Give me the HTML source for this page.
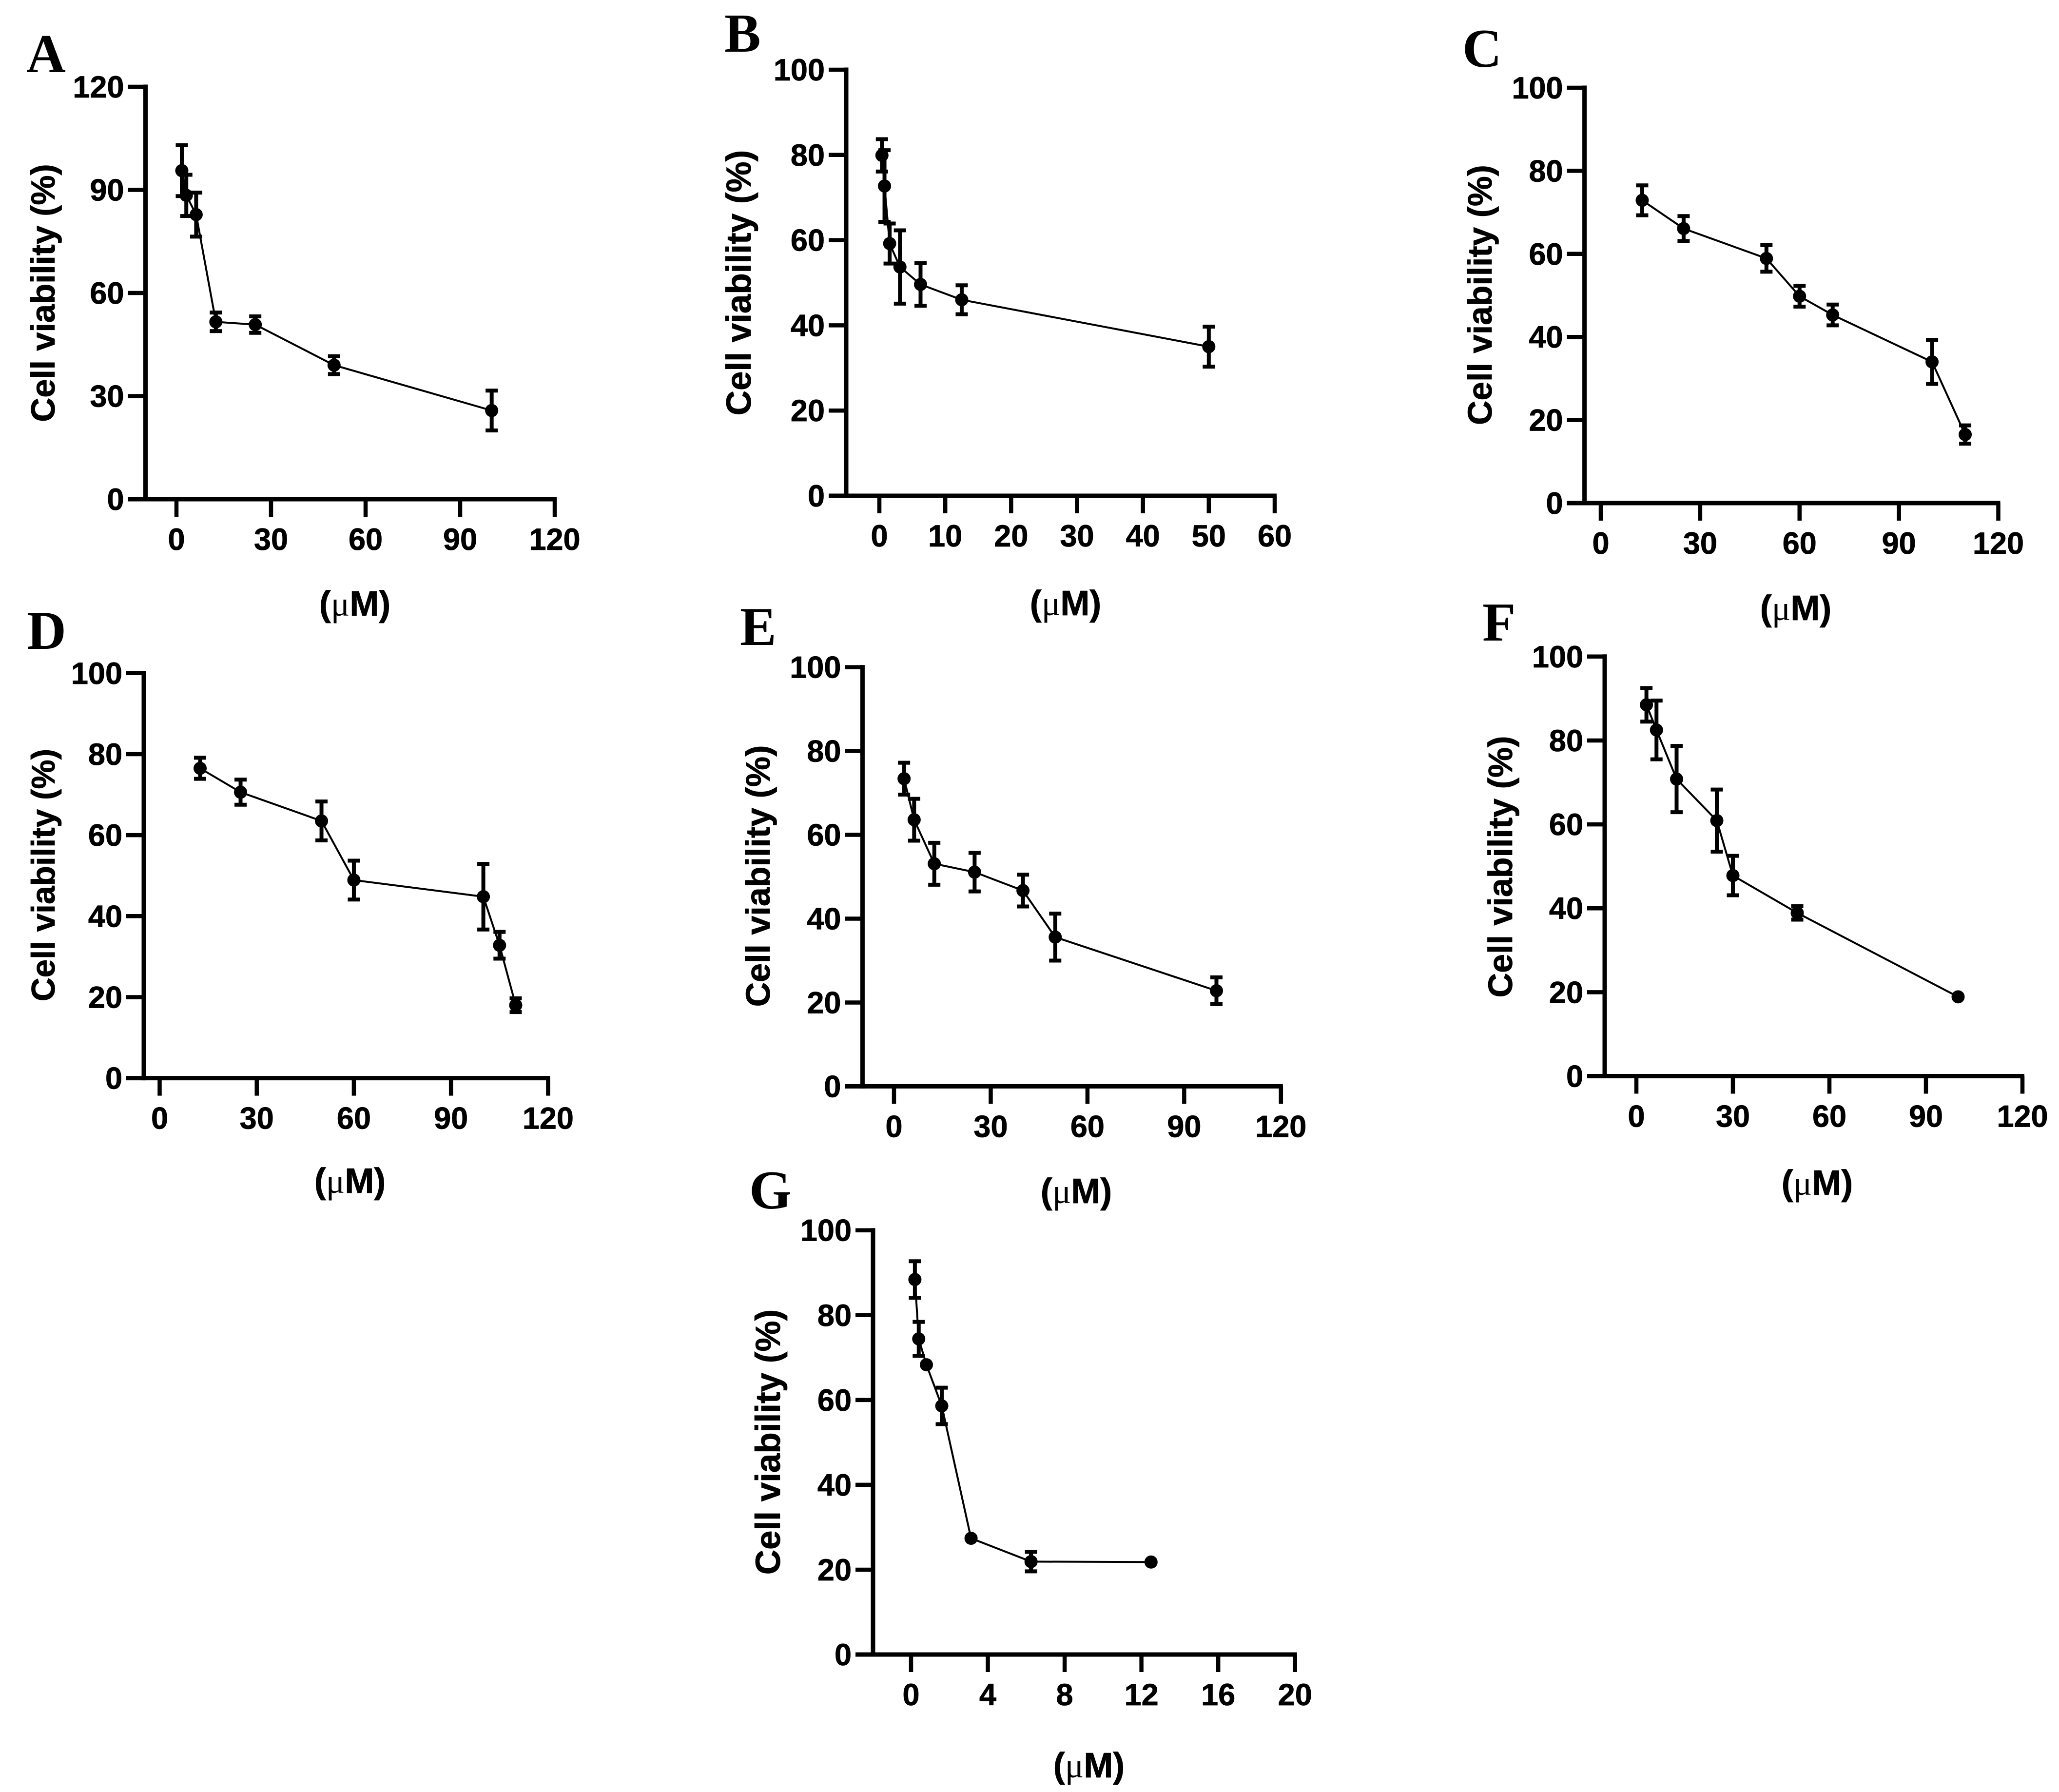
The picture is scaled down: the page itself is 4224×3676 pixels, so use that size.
<!DOCTYPE html>
<html lang="en">
<head>
<meta charset="utf-8">
<title>Cell viability dose-response panels</title>
<style>
  html, body { margin: 0; padding: 0; background: #fff; }
  svg { display: block; }
  text { fill: #000; stroke: #000; stroke-width: 0.8px; font-family: "Liberation Sans", sans-serif; font-weight: 700; }
  .tick-text { font-size: 63px; }
  .panel-letter { font-family: "Liberation Serif", serif; font-size: 112px; stroke-width: 0; }
  .mu { font-family: "Liberation Serif", serif; font-weight: 400; stroke-width: 0; }
</style>
</head>
<body>
<svg id="figure" xmlns="http://www.w3.org/2000/svg" width="4224" height="3676" viewBox="0 0 4224 3676">
  <rect width="4224" height="3676" fill="#ffffff"/>
</svg>
<script>
// Panel A
const aDoses = [1.7, 3.125, 6.25, 12.5, 25, 50, 100];
const aViability = [95.6, 88.4, 82.8, 51.6, 50.8, 39, 25.8];
const aErrors = [7.4, 6, 6.4, 2.7, 2.4, 2.6, 5.8];
const aXTicks = [0, 30, 60, 90, 120];
const aYTicks = [0, 30, 60, 90, 120];
// Panel B
const bDoses = [0.39, 0.78, 1.56, 3.125, 6.25, 12.5, 50];
const bViability = [79.9, 72.7, 59.2, 53.7, 49.6, 46, 35];
const bErrors = [3.8, 8.4, 4.7, 8.6, 5, 3.4, 4.7];
const bXTicks = [0, 10, 20, 30, 40, 50, 60];
const bYTicks = [0, 20, 40, 60, 80, 100];
// Panel C
const cDoses = [12.5, 25, 50, 60, 70, 100, 110];
const cViability = [72.9, 66.1, 58.9, 49.8, 45.3, 34, 16.5];
const cErrors = [3.6, 3, 3.2, 2.5, 2.5, 5.3, 2.2];
const cXTicks = [0, 30, 60, 90, 120];
const cYTicks = [0, 20, 40, 60, 80, 100];
// Panel D
const dDoses = [12.5, 25, 50, 60, 100, 105, 110];
const dViability = [76.5, 70.6, 63.5, 48.9, 44.8, 32.8, 18];
const dErrors = [2.6, 3.1, 4.8, 4.8, 8.1, 3.3, 1.7];
const dXTicks = [0, 30, 60, 90, 120];
const dYTicks = [0, 20, 40, 60, 80, 100];
// Panel E
const eDoses = [3.125, 6.25, 12.5, 25, 40, 50, 100];
const eViability = [73.4, 63.6, 53.1, 51.1, 46.7, 35.6, 22.8];
const eErrors = [3.8, 5, 5, 4.6, 3.8, 5.6, 3.2];
const eXTicks = [0, 30, 60, 90, 120];
const eYTicks = [0, 20, 40, 60, 80, 100];
// Panel F
const fDoses = [3.125, 6.25, 12.5, 25, 30, 50, 100];
const fViability = [88.5, 82.5, 70.8, 60.9, 47.8, 38.9, 18.9];
const fErrors = [4, 7, 7.9, 7.4, 4.7, 1.6, 0];
const fXTicks = [0, 30, 60, 90, 120];
const fYTicks = [0, 20, 40, 60, 80, 100];
// Panel G
const gDoses = [0.2, 0.4, 0.8, 1.6, 3.125, 6.25, 12.5];
const gViability = [88.4, 74.4, 68.3, 58.6, 27.4, 21.9, 21.8];
const gErrors = [4.3, 4, 0, 4.3, 0, 2.3, 0];
const gXTicks = [0, 4, 8, 12, 16, 20];
const gYTicks = [0, 20, 40, 60, 80, 100];

const NS = 'http://www.w3.org/2000/svg';
const figure = document.getElementById('figure');

function make(parent, tag, props) {
  const el = document.createElementNS(NS, tag);
  for (const k in props) el.setAttribute(k, props[k]);
  parent.appendChild(el);
  return el;
}

function drawPanel(p, doses, viability, errors, xTicks, yTicks) {
  const xMax = xTicks[xTicks.length - 1];
  const yMax = yTicks[yTicks.length - 1];
  const sx = v => p.x0 + (v / xMax) * (p.xEnd - p.x0);
  const sy = v => p.y0 - (v / yMax) * (p.y0 - p.yTop);
  const id = p.id;

  const group = make(figure, 'g', {});
  
  

  const letter = make(group, 'text', { x: p.letterX, y: p.letterY, class: 'panel-letter' });
  letter.textContent = id.toUpperCase();
  
  

  const yAxis = make(group, 'line', { x1: p.axisX, x2: p.axisX, y1: sy(yMax) - 4.5, y2: p.y0 + 4.5, stroke: '#000', 'stroke-width': 9 });
  
  

  const xAxis = make(group, 'line', { x1: p.axisX - 36, x2: sx(xMax) + 4, y1: p.y0, y2: p.y0, stroke: '#000', 'stroke-width': 9 });
  
  

  yTicks.forEach(function (t) {
    const mark = make(group, 'line', { x1: p.axisX - 36, x2: p.axisX, y1: sy(t), y2: sy(t), stroke: '#000', 'stroke-width': 8.5 });
    
    
    const label = make(group, 'text', { x: p.axisX - 44, y: sy(t) + 22, 'text-anchor': 'end', class: 'tick-text' });
    label.textContent = t;
    
    
  });

  xTicks.forEach(function (t) {
    const mark = make(group, 'line', { x1: sx(t), x2: sx(t), y1: p.y0, y2: p.y0 + 36, stroke: '#000', 'stroke-width': 8.5 });
    
    
    const label = make(group, 'text', { x: sx(t), y: p.y0 + 104, 'text-anchor': 'middle', class: 'tick-text' });
    label.textContent = t;
    
    
  });

  const yTitle = make(group, 'text', {
    transform: 'translate(' + p.titleX + ',' + p.titleY + ') rotate(-90)',
    'text-anchor': 'middle',
    'font-size': p.titleSize
  });
  yTitle.textContent = 'Cell viability (%)';
  
  

  const xTitle = make(group, 'text', { x: p.unitX, y: p.unitY, 'text-anchor': 'middle', 'font-size': 72 });
  
  
  xTitle.appendChild(document.createTextNode('('));
  const mu = make(xTitle, 'tspan', { class: 'mu' });
  mu.textContent = 'μ';
  xTitle.appendChild(document.createTextNode('M)'));

  const pts = doses.map(function (d, i) { return sx(d) + ',' + sy(viability[i]); }).join(' ');
  const curve = make(group, 'polyline', { points: pts, fill: 'none', stroke: '#000', 'stroke-width': 4, 'stroke-linejoin': 'round' });
  
  

  doses.forEach(function (d, i) {
    const cx = sx(d);
    const err = errors[i];
    if (err > 0) {
      const bar = make(group, 'path', {
        d: 'M' + (cx - 12.5) + ' ' + sy(viability[i] + err) + 'H' + (cx + 12.5) +
           'M' + cx + ' ' + sy(viability[i] + err) + 'V' + sy(viability[i] - err) +
           'M' + (cx - 12.5) + ' ' + sy(viability[i] - err) + 'H' + (cx + 12.5),
        fill: 'none', stroke: '#000', 'stroke-width': 8
      });
      
      
    }
    const dot = make(group, 'circle', { cx: cx, cy: sy(viability[i]), r: 13.5, fill: '#000' });
    
    
  });
}

drawPanel({ id: 'a', axisX: 298.5, x0: 362, xEnd: 1138, y0: 1024, yTop: 178, letterX: 54, letterY: 148, titleX: 112, titleY: 601, titleSize: 69, unitX: 728, unitY: 1263 }, aDoses, aViability, aErrors, aXTicks, aYTicks);
drawPanel({ id: 'b', axisX: 1736, x0: 1804, xEnd: 2615, y0: 1017, yTop: 143, letterX: 1486, letterY: 106, titleX: 1540, titleY: 580, titleSize: 71, unitX: 2186, unitY: 1262 }, bDoses, bViability, bErrors, bXTicks, bYTicks);
drawPanel({ id: 'c', axisX: 3250.6, x0: 3284, xEnd: 4099.5, y0: 1032, yTop: 180, letterX: 3000, letterY: 137, titleX: 3060, titleY: 605, titleSize: 69.6, unitX: 3684, unitY: 1272 }, cDoses, cViability, cErrors, cXTicks, cYTicks);
drawPanel({ id: 'd', axisX: 295, x0: 327.5, xEnd: 1124.4, y0: 2211.6, yTop: 1380.8, letterX: 55, letterY: 1331, titleX: 112, titleY: 1795, titleSize: 67.6, unitX: 718, unitY: 2447 }, dDoses, dViability, dErrors, dXTicks, dYTicks);
drawPanel({ id: 'e', axisX: 1769.4, x0: 1834, xEnd: 2627.8, y0: 2228.4, yTop: 1368.6, letterX: 1518, letterY: 1323, titleX: 1579, titleY: 1797, titleSize: 70, unitX: 2208, unitY: 2468 }, eDoses, eViability, eErrors, eXTicks, eYTicks);
drawPanel({ id: 'f', axisX: 3292, x0: 3357, xEnd: 4149, y0: 2207.5, yTop: 1346.8, letterX: 3041, letterY: 1314, titleX: 3102, titleY: 1778, titleSize: 70, unitX: 3728, unitY: 2451 }, fDoses, fViability, fErrors, fXTicks, fYTicks);
drawPanel({ id: 'g', axisX: 1791, x0: 1869, xEnd: 2656.7, y0: 3394, yTop: 2523.7, letterX: 1537, letterY: 2479, titleX: 1600, titleY: 2958, titleSize: 71, unitX: 2234, unitY: 3646 }, gDoses, gViability, gErrors, gXTicks, gYTicks);
</script>
</body>
</html>
